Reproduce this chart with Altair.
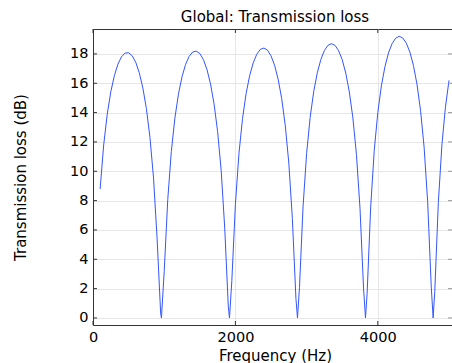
import altair as alt
import pandas as pd

# Frequency (Hz)
freq = [100, 150, 200, 250, 300, 350, 400, 450, 500, 550, 600, 650, 700, 750, 800, 850, 900, 950, 961,
        1000, 1050, 1100, 1150, 1200, 1250, 1300, 1350, 1400, 1450, 1500, 1550, 1600, 1650, 1700, 1750, 1800, 1850, 1900, 1917,
        1950, 2000, 2050, 2100, 2150, 2200, 2250, 2300, 2350, 2400, 2450, 2500, 2550, 2600, 2650, 2700, 2750, 2800, 2850, 2872,
        2900, 2950, 3000, 3050, 3100, 3150, 3200, 3250, 3300, 3350, 3400, 3450, 3500, 3550, 3600, 3650, 3700, 3750, 3800, 3827,
        3850, 3900, 3950, 4000, 4050, 4100, 4150, 4200, 4250, 4300, 4350, 4400, 4450, 4500, 4550, 4600, 4650, 4700, 4750, 4777,
        4800, 4850, 4900, 4950, 5000]

# Transmission loss (dB)
tl = [8.79, 11.79, 13.90, 15.42, 16.52, 17.30, 17.80, 18.06, 18.08, 17.88, 17.43, 16.72, 15.69, 14.27, 12.31, 9.55, 5.43, 0.34, 0.0,
      3.15, 8.07, 11.35, 13.62, 15.26, 16.44, 17.28, 17.83, 18.13, 18.19, 18.03, 17.62, 16.95, 15.97, 14.60, 12.72, 10.07, 6.13, 0.80, 0.0,
      2.56, 7.75, 11.22, 13.59, 15.29, 16.52, 17.39, 17.98, 18.31, 18.40, 18.26, 17.87, 17.23, 16.28, 14.96, 13.14, 10.57, 6.77, 1.33, 0.0,
      2.09, 7.57, 11.21, 13.68, 15.44, 16.71, 17.62, 18.23, 18.59, 18.70, 18.58, 18.22, 17.61, 16.69, 15.41, 13.64, 11.15, 7.47, 1.98, 0.0,
      1.69, 7.56, 11.42, 14.00, 15.82, 17.13, 18.07, 18.70, 19.07, 19.20, 19.09, 18.74, 18.13, 17.22, 15.94, 14.16, 11.66, 7.94, 2.18, 0.0,
      1.81, 7.87, 11.78, 14.37, 16.20]

x_ticks = [0, 2000, 4000]
y_ticks = [0, 2, 4, 6, 8, 10, 12, 14, 16, 18]
title_text = ["Global: Transmission loss"]

W, H = 359, 296
FONT = "DejaVu Sans"
AXIS_COLOR = "#333333"

df = pd.DataFrame({"f": freq, "tl": tl})
xt = pd.DataFrame({"f": x_ticks})
yt = pd.DataFrame({"tl": y_ticks})
tt = pd.DataFrame({"t": title_text})

xscale = alt.Scale(domain=[0, 5042], nice=False, zero=False)
yscale = alt.Scale(domain=[-0.48, 19.7], nice=False, zero=False)

xaxis = alt.Axis(values=x_ticks, title="Frequency (Hz)", format="d",
                 tickSize=0, labelPadding=5, labelFlush=False,
                 titleX=182, titleY=30, titleBaseline="middle", titleAlign="center")
yaxis = alt.Axis(values=y_ticks, title="Transmission loss (dB)",
                 tickSize=0, labelPadding=5,
                 titleX=-73, titleY=148, titleBaseline="middle", titleAlign="center")

X = alt.X("f:Q", scale=xscale, axis=xaxis)
Y = alt.Y("tl:Q", scale=yscale, axis=yaxis)

line = alt.Chart(df).mark_line(color="#3355ff", strokeWidth=1).encode(x=X, y=Y)

xt_bottom = alt.Chart(xt).mark_rule(color=AXIS_COLOR, strokeWidth=1).encode(
    x=X, y=alt.value(H - 4), y2=alt.value(H))
xt_top = alt.Chart(xt).mark_rule(color=AXIS_COLOR, strokeWidth=1).encode(
    x=X, y=alt.value(0), y2=alt.value(4))
yt_left = alt.Chart(yt).mark_rule(color=AXIS_COLOR, strokeWidth=1).encode(
    y=Y, x=alt.value(0), x2=alt.value(4))
yt_right = alt.Chart(yt).mark_rule(color="#999999", strokeWidth=1).encode(
    y=Y, x=alt.value(W - 4), x2=alt.value(W))

title = alt.Chart(tt).mark_text(
    font=FONT, fontSize=15, color="#000000", align="center", baseline="alphabetic"
).encode(text="t:N", x=alt.value(182), y=alt.value(-7))

chart = alt.layer(line, xt_bottom, xt_top, yt_left, yt_right, title).properties(
    width=W, height=H,
    autosize=alt.AutoSizeParams(type="none"),
    padding={"left": 93, "top": 29, "right": 0, "bottom": 38},
).configure_axis(
    labelFont=FONT, labelFontSize=14.5, labelColor="#000000",
    titleFont=FONT, titleFontSize=15, titleColor="#000000", titleFontWeight="normal",
    grid=True, gridColor="#e6e6e6", gridWidth=1,
    domainColor=AXIS_COLOR, domainWidth=1,
).configure_view(
    stroke=AXIS_COLOR, strokeWidth=1,
)

chart.save("out.html", embed_options={"renderer": "svg", "actions": False})
